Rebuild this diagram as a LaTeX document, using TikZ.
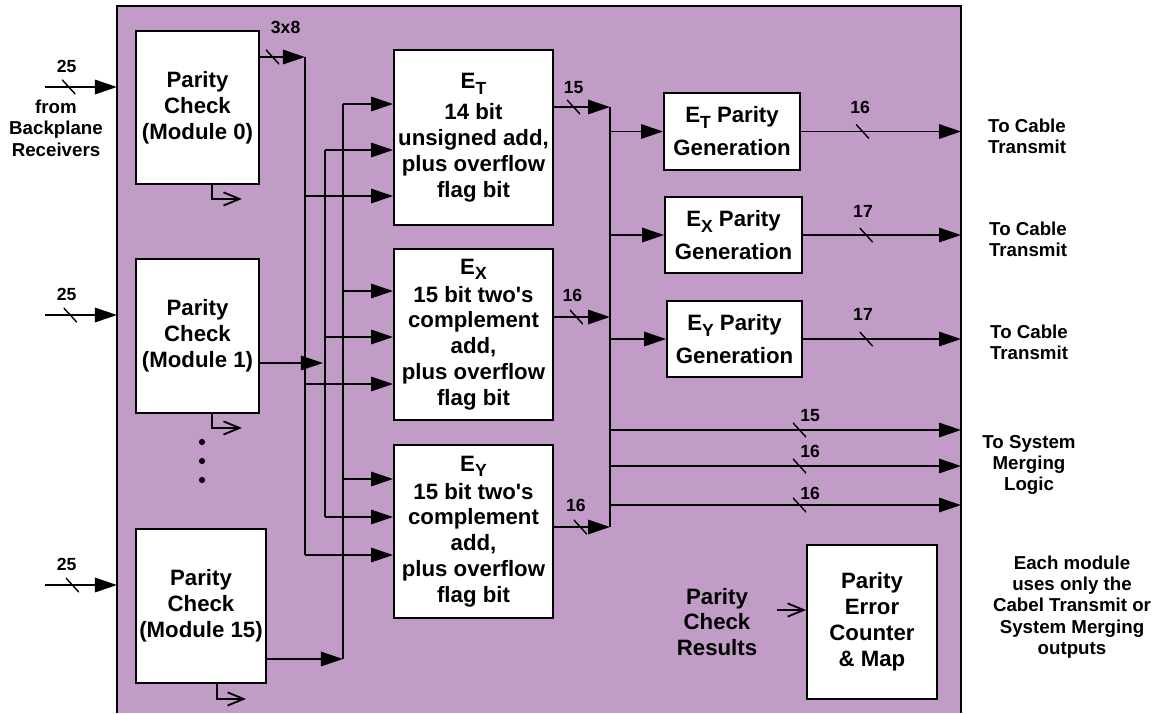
\documentclass[tikz,border=0pt]{standalone}
\usepackage{fontspec}
\setmainfont{Liberation Sans}
\usetikzlibrary{arrows.meta, positioning}

\definecolor{boardpurple}{RGB}{192,156,198}
\newcommand{\lowidx}[1]{\raisebox{-4pt}{\fontsize{12.5}{12.5}\selectfont #1}}

\tikzset{
  blk/.style={draw, fill=white, line width=1.3pt, align=center, inner sep=1pt,
    font=\fontsize{15.8}{18.4}\selectfont\bfseries},
  wire/.style={line width=1.3pt},
  bus/.style={wire, -{Triangle[length=0.55cm, width=0.36cm]}},
  flagout/.style={wire, -{Straight Barb[length=0.4cm, width=0.33cm, line width=1.3pt]}},
  note/.style={align=center, font=\fontsize{13.3}{15.2}\selectfont\bfseries},
  caption/.style={align=center, font=\fontsize{15.8}{18.2}\selectfont\bfseries},
  buswidth/.style={font=\fontsize{12.5}{14}\selectfont\bfseries, inner sep=1pt},
  slash/.style={inner sep=0pt, minimum width=0.33cm, minimum height=0.36cm,
    path picture={\draw[-, line width=1pt] (path picture bounding box.north west) -- (path picture bounding box.south east);}}
}

\begin{document}
\begin{tikzpicture}[x=0.025cm, y=-0.025cm]
  \useasboundingbox (0,0) rectangle (1162,713);
  % board
  \fill[boardpurple] (117,6) rectangle (961,713);
  \draw[wire] (117,713) -- (117,6) -- (961,6) -- (961,713);
  \coordinate (edgeL) at (117,0);
  \coordinate (edgeR) at (961,0);

  % parity check modules
  \node[blk, minimum width=3.075cm, minimum height=3.825cm] (pc0) at (197.5,107.5) {Parity\\Check\\(Module 0)};
  \node[blk, minimum width=3.075cm, minimum height=3.85cm] (pc1) at (197.5,336) {Parity\\Check\\(Module 1)};
  \node[blk, minimum width=3.25cm, minimum height=3.85cm] (pc15) at (201,606) {Parity\\Check\\(Module 15)};

  % adders
  \node[blk, minimum width=3.975cm, minimum height=4.375cm] (et) at (473.5,137.5) {E\lowidx{T}\\[3.5pt]14 bit\\unsigned add,\\plus overflow\\flag bit};
  \node[blk, minimum width=3.975cm, minimum height=4.275cm] (ex) at (473.5,334.5) {E\lowidx{X}\\[1.5pt]15 bit two\textquotesingle s\\complement\\add,\\plus overflow\\flag bit};
  \node[blk, minimum width=3.975cm, minimum height=4.325cm] (ey) at (473.5,531.5) {E\lowidx{Y}\\[1.5pt]15 bit two\textquotesingle s\\complement\\add,\\plus overflow\\flag bit};

  % parity generation
  \node[blk, minimum width=3.4cm, minimum height=1.925cm] (etp) at (732,131.5) {E\lowidx{T} Parity\\[5pt]Generation};
  \node[blk, minimum width=3.425cm, minimum height=1.9cm] (exp) at (733.5,235) {E\lowidx{X} Parity\\[5pt]Generation};
  \node[blk, minimum width=3.375cm, minimum height=1.9cm] (eyp) at (734.5,339) {E\lowidx{Y} Parity\\[5pt]Generation};

  \node[blk, minimum width=3.25cm, minimum height=3.85cm] (pec) at (872,622) {Parity\\Error\\Counter\\\& Map};

  % backplane inputs
  \node[note] (src) at (56,128) {from\\Backplane\\Receivers};
  \coordinate (in0) at (45,87);
  \coordinate (in1) at (45,315);
  \coordinate (in15) at (45,585);
  \draw[bus] (in0) -- node[slash, pos=0.33]{} node[buswidth, above=8.5pt, pos=0.3]{25} (in0 -| edgeL);
  \draw[bus] (in1) -- node[slash, pos=0.35]{} node[buswidth, above=8.5pt, pos=0.3]{25} (in1 -| edgeL);
  \draw[bus] (in15) -- node[slash, pos=0.38]{} node[buswidth, above=8.5pt, pos=0.3]{25} (in15 -| edgeL);

  % module outputs onto the three buses
  \coordinate (xa) at (305,57);
  \coordinate (xb) at (325,150);
  \coordinate (xc) at (343,104);
  \coordinate (xa1) at (305,196);
  \coordinate (xa2) at (305,384);
  \coordinate (xa3) at (305,555);
  \coordinate (xb2) at (325,337);
  \coordinate (xb3) at (325,517);
  \coordinate (xc2) at (343,291);
  \coordinate (xc3) at (343,479);
  \coordinate (xc4) at (343,659);
  \coordinate (xm1) at (323,363);
  \draw[bus] (pc0.east |- xa) -- node[slash, pos=0.28]{} node[buswidth, above=15pt, pos=0.57]{3x8} (xa);
  \draw[bus] (pc1.east |- xm1) -- (xm1);
  \draw[bus] (pc15.east |- xc4) -- (xc4);
  \draw[wire] (xa) -- (xa3);
  \draw[wire] (xb) -- (xb3);
  \draw[wire] (xc) -- (xc4);
  \draw[bus] (xc) -- (xc -| et.west);
  \draw[bus] (xb) -- (xb -| et.west);
  \draw[bus] (xa1) -- (xa1 -| et.west);
  \draw[bus] (xc2) -- (xc2 -| ex.west);
  \draw[bus] (xb2) -- (xb2 -| ex.west);
  \draw[bus] (xa2) -- (xa2 -| ex.west);
  \draw[bus] (xc3) -- (xc3 -| ey.west);
  \draw[bus] (xb3) -- (xb3 -| ey.west);
  \draw[bus] (xa3) -- (xa3 -| ey.west);

  % parity check result flags
  \draw[flagout] ([xshift=0.36cm]pc0.south) |- ++(30,14);
  \draw[flagout] ([xshift=0.36cm]pc1.south) |- ++(30,14);
  \draw[flagout] ([xshift=0.4cm]pc15.south) |- ++(29,15);
  \fill (202,442) circle (2.2pt);
  \fill (202,461) circle (2.2pt);
  \fill (202,480) circle (2.2pt);

  % adder outputs
  \coordinate (rb0) at (610,107);
  \coordinate (rbx) at (610,317);
  \coordinate (rb1) at (610,527);
  \draw[bus] (et.east |- rb0) -- node[slash, pos=0.35]{} node[buswidth, above=8pt, pos=0.35]{15} (rb0);
  \draw[bus] (ex.east |- rbx) -- node[slash, pos=0.4]{} node[buswidth, above=9pt, pos=0.33]{16} (rbx);
  \draw[bus] (ey.east |- rb1) -- node[slash, pos=0.47]{} node[buswidth, above=9.5pt, pos=0.39]{16} (rb1);
  \draw[wire] (rb0) -- (rb1);
  \draw[bus] (rb0 |- etp) -- (etp.west);
  \draw[bus] (rb0 |- exp) -- (exp.west);
  \draw[bus] (rb0 |- eyp) -- (eyp.west);

  % cable transmit outputs
  \draw[bus] (etp.east) -- node[slash, pos=0.385]{} node[buswidth, above=11pt, pos=0.37]{16} (etp.east -| edgeR);
  \draw[bus] (exp.east) -- node[slash, pos=0.4]{} node[buswidth, above=11pt, pos=0.38]{17} (exp.east -| edgeR);
  \draw[bus] (eyp.east) -- node[slash, pos=0.4]{} node[buswidth, above=11.5pt, pos=0.38]{17} (eyp.east -| edgeR);
  \node[note] (tx0) at (1027,136) {To Cable\\Transmit};
  \node[note] (tx1) at (1028,239) {To Cable\\Transmit};
  \node[note] (tx2) at (1029,342) {To Cable\\Transmit};

  % system merging outputs
  \coordinate (sm0) at (610,430);
  \coordinate (sm1) at (610,466);
  \coordinate (sm2) at (610,505);
  \draw[bus] (sm0) -- node[slash, pos=0.54]{} node[buswidth, above=4.5pt, pos=0.57]{15} (sm0 -| edgeR);
  \draw[bus] (sm1) -- node[slash, pos=0.54]{} node[buswidth, above=4.5pt, pos=0.57]{16} (sm1 -| edgeR);
  \draw[bus] (sm2) -- node[slash, pos=0.54]{} node[buswidth, above=2.5pt, pos=0.57]{16} (sm2 -| edgeR);
  \node[note] (sml) at (1029,465) {To System\\Merging\\Logic};

  % error counter
  \node[caption] (pcr) at (717,622) {Parity\\Check\\Results};
  \coordinate (pcr0) at (777,610);
  \draw[flagout] (pcr0) -- (pcr0 -| pec.west);
  \node[note] (usenote) at (1072,607) {Each module\\uses only the\\Cabel Transmit or\\System Merging\\outputs};
\end{tikzpicture}
\end{document}
